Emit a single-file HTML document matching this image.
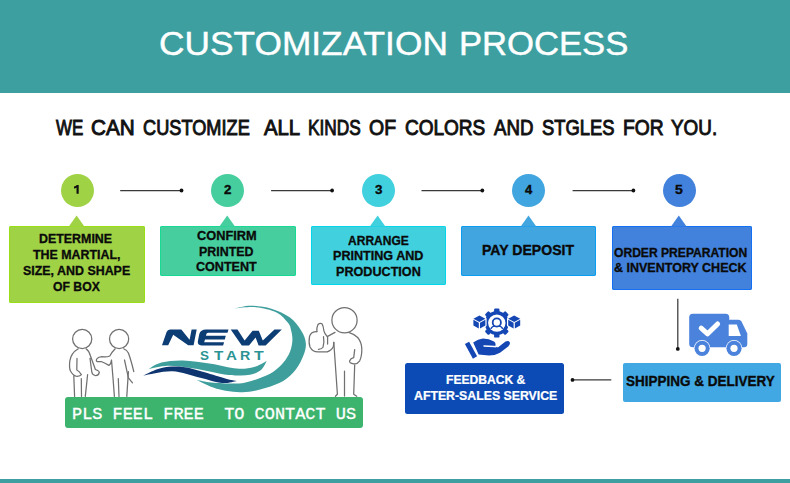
<!DOCTYPE html>
<html><head><meta charset="utf-8"><style>
html,body{margin:0;padding:0;}
body{width:790px;height:483px;position:relative;overflow:hidden;background:#fff;font-family:"Liberation Sans",sans-serif;}
.t{position:absolute;white-space:nowrap;line-height:normal}
.b{font-weight:bold}
.f{position:absolute;white-space:pre;line-height:1;transform-origin:0 0}
</style></head><body>
<div style="position:absolute;left:0;top:0;width:790px;height:92.6px;background:#3d9fa0"></div>
<div style="position:absolute;left:0;top:479.2px;width:790px;height:4px;background:#3d9fa0"></div>
<div style="position:absolute;left:60.50px;top:174.20px;width:33.00px;height:33.00px;border-radius:50%;background:#a0d246"></div>
<svg style="position:absolute;left:0;top:0" width="100" height="220"><path d="M76.5,193.8 L76.5,187.6 Q75.6,188.4 74,188.6 L74,186.6 Q76,186.2 76.8,185 L78.7,185 L78.7,193.8Z" fill="#111"/></svg>
<div style="position:absolute;left:9.3px;top:226px;width:135.30px;height:77.00px;border-radius:2px;background:#a0d246;box-shadow:inset 0 0 0 1px #98e015"></div>
<svg style="position:absolute;left:0;top:0" width="790" height="240"><path d="M68.80,226.5 L76.60,215.6 L84.40,226.5Z" fill="#a0d246"/></svg>
<div style="position:absolute;left:211.00px;top:174.20px;width:33.00px;height:33.00px;border-radius:50%;background:#47ce9e"></div>
<div style="position:absolute;left:159.8px;top:226px;width:135.80px;height:50.20px;border-radius:2px;background:#47ce9e;box-shadow:inset 0 0 0 1px #17db95"></div>
<svg style="position:absolute;left:0;top:0" width="790" height="240"><path d="M219.40,226.5 L227.20,215.6 L235.00,226.5Z" fill="#47ce9e"/></svg>
<div style="position:absolute;left:361.80px;top:174.20px;width:33.00px;height:33.00px;border-radius:50%;background:#40d0de"></div>
<div style="position:absolute;left:310.5px;top:226px;width:135.50px;height:58.60px;border-radius:2px;background:#40d0de;box-shadow:inset 0 0 0 1px #04d5e9"></div>
<svg style="position:absolute;left:0;top:0" width="790" height="240"><path d="M369.80,226.5 L377.60,215.6 L385.40,226.5Z" fill="#40d0de"/></svg>
<div style="position:absolute;left:512.20px;top:174.20px;width:33.00px;height:33.00px;border-radius:50%;background:#41a5e0"></div>
<div style="position:absolute;left:461.3px;top:226px;width:135.00px;height:50.40px;border-radius:2px;background:#41a5e0;box-shadow:inset 0 0 0 1px #0c9df2"></div>
<svg style="position:absolute;left:0;top:0" width="790" height="240"><path d="M520.70,226.5 L528.50,215.6 L536.30,226.5Z" fill="#41a5e0"/></svg>
<div style="position:absolute;left:662.80px;top:174.20px;width:33.00px;height:33.00px;border-radius:50%;background:#4282dc"></div>
<div style="position:absolute;left:611.9px;top:226px;width:139.70px;height:63.60px;border-radius:2px;background:#4282dc;box-shadow:inset 0 0 0 1px #1370f2"></div>
<svg style="position:absolute;left:0;top:0" width="790" height="240"><path d="M671.00,226.5 L678.80,215.6 L686.60,226.5Z" fill="#4282dc"/></svg>
<svg style="position:absolute;left:0;top:0" width="790" height="483"><g stroke="#3a3a3a" stroke-width="1.25" fill="#111"><line x1="120.2" y1="190.5" x2="181.5" y2="190.5"/><circle cx="181.5" cy="190.5" r="1.9" stroke="none"/><line x1="271.1" y1="190.5" x2="332.1" y2="190.5"/><circle cx="332.1" cy="190.5" r="1.9" stroke="none"/><line x1="421.5" y1="190.5" x2="482.3" y2="190.5"/><circle cx="482.3" cy="190.5" r="1.9" stroke="none"/><line x1="572.6" y1="190.5" x2="633.4" y2="190.5"/><circle cx="633.4" cy="190.5" r="1.9" stroke="none"/><line x1="677.8" y1="298.7" x2="677.8" y2="348.9"/><circle cx="677.8" cy="348.9" r="1.9" stroke="none"/><line x1="572.5" y1="379.9" x2="611.3" y2="379.9"/><circle cx="572.5" cy="379.9" r="1.9" stroke="none"/></g></svg>
<div style="position:absolute;left:622.6px;top:362.6px;width:158.4px;height:39.8px;border-radius:2px;background:#41a8e3"></div>
<div style="position:absolute;left:404.7px;top:363.2px;width:159.3px;height:50.4px;border-radius:2.5px;background:#0c4ab6"></div>
<div style="position:absolute;left:65.1px;top:396.7px;width:297.8px;height:31.8px;border-radius:3px;background:#3db46e"></div>
<div class="f" style="left:159.34px;top:25.14px;font:normal 100px 'Liberation Sans';color:#fff;transform:scale(0.35292,0.33000);-webkit-text-stroke:1.3px #fff">CUSTOMIZATION</div>
<div class="f" style="left:458.63px;top:25.14px;font:normal 100px 'Liberation Sans';color:#fff;transform:scale(0.34622,0.33000);-webkit-text-stroke:1.3px #fff">PROCESS</div>
<div class="f" style="left:56.30px;top:115.12px;font:normal 100px 'Liberation Sans';color:#111;transform:scale(0.16943,0.21500);-webkit-text-stroke:4.5px #111">WE</div>
<div class="f" style="left:91.46px;top:115.12px;font:normal 100px 'Liberation Sans';color:#111;transform:scale(0.20707,0.21500);-webkit-text-stroke:4.5px #111">CAN</div>
<div class="f" style="left:142.79px;top:115.12px;font:normal 100px 'Liberation Sans';color:#111;transform:scale(0.18201,0.21500);-webkit-text-stroke:4.5px #111">CUSTOMIZE</div>
<div class="f" style="left:264.00px;top:115.12px;font:normal 100px 'Liberation Sans';color:#111;transform:scale(0.20286,0.21500);-webkit-text-stroke:4.5px #111">ALL</div>
<div class="f" style="left:308.22px;top:115.12px;font:normal 100px 'Liberation Sans';color:#111;transform:scale(0.17304,0.21500);-webkit-text-stroke:4.5px #111">KINDS</div>
<div class="f" style="left:369.43px;top:115.12px;font:normal 100px 'Liberation Sans';color:#111;transform:scale(0.19462,0.21500);-webkit-text-stroke:4.5px #111">OF</div>
<div class="f" style="left:405.35px;top:115.12px;font:normal 100px 'Liberation Sans';color:#111;transform:scale(0.19007,0.21500);-webkit-text-stroke:4.5px #111">COLORS</div>
<div class="f" style="left:494.20px;top:115.12px;font:normal 100px 'Liberation Sans';color:#111;transform:scale(0.18696,0.21500);-webkit-text-stroke:4.5px #111">AND</div>
<div class="f" style="left:541.78px;top:115.12px;font:normal 100px 'Liberation Sans';color:#111;transform:scale(0.18390,0.21500);-webkit-text-stroke:4.5px #111">STGLES</div>
<div class="f" style="left:623.36px;top:115.12px;font:normal 100px 'Liberation Sans';color:#111;transform:scale(0.19192,0.21500);-webkit-text-stroke:4.5px #111">FOR</div>
<div class="f" style="left:671.42px;top:115.12px;font:normal 100px 'Liberation Sans';color:#111;transform:scale(0.18889,0.21500);-webkit-text-stroke:4.5px #111">YOU.</div>
<div class="f" style="left:223.90px;top:182.58px;font:bold 100px 'Liberation Sans';color:#0a0a0a;transform:scale(0.13265,0.12200);-webkit-text-stroke:3px #0a0a0a">2</div>
<div class="f" style="left:374.63px;top:182.58px;font:bold 100px 'Liberation Sans';color:#0a0a0a;transform:scale(0.13400,0.12200);-webkit-text-stroke:3px #0a0a0a">3</div>
<div class="f" style="left:525.27px;top:182.58px;font:bold 100px 'Liberation Sans';color:#0a0a0a;transform:scale(0.12963,0.12200);-webkit-text-stroke:3px #0a0a0a">4</div>
<div class="f" style="left:675.48px;top:182.58px;font:bold 100px 'Liberation Sans';color:#0a0a0a;transform:scale(0.14000,0.12200);-webkit-text-stroke:3px #0a0a0a">5</div>
<div class="f" style="left:38.63px;top:231.22px;font:bold 100px 'Liberation Sans';color:#0a0a0a;transform:scale(0.12405,0.12700);-webkit-text-stroke:2.5px #0a0a0a">DETERMINE</div>
<div class="f" style="left:32.88px;top:247.12px;font:bold 100px 'Liberation Sans';color:#0a0a0a;transform:scale(0.12407,0.12700);-webkit-text-stroke:2.5px #0a0a0a">THE MARTIAL,</div>
<div class="f" style="left:23.23px;top:262.72px;font:bold 100px 'Liberation Sans';color:#0a0a0a;transform:scale(0.12418,0.12700);-webkit-text-stroke:2.5px #0a0a0a">SIZE, AND SHAPE</div>
<div class="f" style="left:53.31px;top:278.72px;font:bold 100px 'Liberation Sans';color:#0a0a0a;transform:scale(0.12222,0.12700);-webkit-text-stroke:2.5px #0a0a0a">OF BOX</div>
<div class="f" style="left:197.09px;top:227.62px;font:bold 100px 'Liberation Sans';color:#0a0a0a;transform:scale(0.12807,0.12700);-webkit-text-stroke:2.5px #0a0a0a">CONFIRM</div>
<div class="f" style="left:199.13px;top:243.72px;font:bold 100px 'Liberation Sans';color:#0a0a0a;transform:scale(0.12430,0.12700);-webkit-text-stroke:2.5px #0a0a0a">PRINTED</div>
<div class="f" style="left:196.30px;top:259.12px;font:bold 100px 'Liberation Sans';color:#0a0a0a;transform:scale(0.12573,0.12700);-webkit-text-stroke:2.5px #0a0a0a">CONTENT</div>
<div class="f" style="left:347.74px;top:232.52px;font:bold 100px 'Liberation Sans';color:#0a0a0a;transform:scale(0.12044,0.12700);-webkit-text-stroke:2.5px #0a0a0a">ARRANGE</div>
<div class="f" style="left:332.62px;top:248.32px;font:bold 100px 'Liberation Sans';color:#0a0a0a;transform:scale(0.12588,0.12700);-webkit-text-stroke:2.5px #0a0a0a">PRINTING AND</div>
<div class="f" style="left:335.72px;top:264.32px;font:bold 100px 'Liberation Sans';color:#0a0a0a;transform:scale(0.12610,0.12700);-webkit-text-stroke:2.5px #0a0a0a">PRODUCTION</div>
<div class="f" style="left:481.52px;top:242.04px;font:bold 100px 'Liberation Sans';color:#0a0a0a;transform:scale(0.14071,0.14300);-webkit-text-stroke:2.5px #0a0a0a">PAY DEPOSIT</div>
<div class="f" style="left:614.32px;top:244.62px;font:bold 100px 'Liberation Sans';color:#0a0a0a;transform:scale(0.12090,0.12700);-webkit-text-stroke:2.5px #0a0a0a">ORDER PREPARATION</div>
<div class="f" style="left:614.30px;top:260.32px;font:bold 100px 'Liberation Sans';color:#0a0a0a;transform:scale(0.12514,0.12700);-webkit-text-stroke:2.5px #0a0a0a">&amp; INVENTORY CHECK</div>
<div class="f" style="left:626.20px;top:373.02px;font:bold 100px 'Liberation Sans';color:#0a0a0a;transform:scale(0.13491,0.14000);-webkit-text-stroke:2.5px #0a0a0a">SHIPPING &amp; DELIVERY</div>
<div class="f" style="left:445.65px;top:372.79px;font:bold 100px 'Liberation Sans';color:#fff;transform:scale(0.12093,0.12400);-webkit-text-stroke:2px #fff">FEEDBACK &amp;</div>
<div class="f" style="left:413.73px;top:388.59px;font:bold 100px 'Liberation Sans';color:#fff;transform:scale(0.12297,0.12400);-webkit-text-stroke:2px #fff">AFTER-SALES SERVICE</div>
<div class="f" style="left:72.25px;top:404.77px;font:normal 100px 'Liberation Mono';color:#fff;transform:scale(0.16905,0.16900);-webkit-text-stroke:2px #fff">PLS FEEL FREE  TO CONTACT US</div>
<div class="f" style="left:200.29px;top:349.29px;font:bold 100px 'Liberation Sans';color:#2b9393;transform:scale(0.13500,0.12400);">S</div>
<div class="f" style="left:214.35px;top:349.29px;font:bold 100px 'Liberation Sans';color:#2b9393;transform:scale(0.15254,0.12400);">T</div>
<div class="f" style="left:226.35px;top:349.29px;font:bold 100px 'Liberation Sans';color:#2b9393;transform:scale(0.15152,0.12400);">A</div>
<div class="f" style="left:239.60px;top:349.29px;font:bold 100px 'Liberation Sans';color:#2b9393;transform:scale(0.14286,0.12400);">R</div>
<div class="f" style="left:254.24px;top:349.29px;font:bold 100px 'Liberation Sans';color:#2b9393;transform:scale(0.15932,0.12400);">T</div>
<svg style="position:absolute;left:0;top:0" width="790" height="483" viewBox="0 0 790 483">
<!-- truck -->
<g fill="#4a82dc">
  <rect x="689.2" y="313.8" width="40" height="33.5" rx="3.5"/>
  <path d="M726,319.7 L738.5,319.7 Q740.5,319.7 741.5,321.5 L747.3,333.5 L747.3,344 Q747.3,347.3 744,347.3 L726,347.3 Z"/>
</g>
<g fill="#fff"><circle cx="702.1" cy="348.3" r="8.2"/><circle cx="734" cy="348.3" r="8.2"/></g>
<g fill="#4a82dc"><circle cx="702.1" cy="348.3" r="7.6"/><circle cx="734" cy="348.3" r="7.6"/></g>
<g fill="#fff">
  <path d="M728.7,324.5 L736.8,324.5 L740.9,336.1 L728.7,336.1 Z"/>
  <circle cx="702.1" cy="348.3" r="3.6"/>
  <circle cx="734" cy="348.3" r="3.6"/>
</g>
<path d="M701.2,328.2 L707.6,333.8 L717.6,324" fill="none" stroke="#fff" stroke-width="5" stroke-linecap="round" stroke-linejoin="round"/>
<!-- feedback icon -->
<g fill="#1446b4">
  <g transform="translate(496.8,323.1)">
    <circle r="12"/>
    <rect x="-2.7" y="-14.5" width="5.4" height="5" rx="1.2"/>
    <rect x="-2.7" y="9.5" width="5.4" height="5" rx="1.2"/>
    <rect x="-2.7" y="-14.5" width="5.4" height="5" rx="1.2" transform="rotate(45)"/>
    <rect x="-2.7" y="-14.5" width="5.4" height="5" rx="1.2" transform="rotate(-45)"/>
    <rect x="-2.7" y="9.5" width="5.4" height="5" rx="1.2" transform="rotate(45)"/>
    <rect x="-2.7" y="9.5" width="5.4" height="5" rx="1.2" transform="rotate(-45)"/>
    <circle r="8.7" fill="#fff"/>
    <circle cy="-0.6" r="4.1" fill="none" stroke="#1446b4" stroke-width="1.8"/>
    <path d="M-6,5.8 Q-4.5,3 -2,3 M2,3 Q4.5,3 6,5.8" fill="none" stroke="#1446b4" stroke-width="1.4"/>
  </g>
  <g id="cube" transform="translate(479.4,322)">
    <path d="M0,-6.5 L6,-3.3 L6,3.5 L0,6.7 L-6,3.5 L-6,-3.3Z" fill="#fff" stroke="#fff" stroke-width="2.4" stroke-linejoin="round"/>
    <path d="M0,-6.5 L6,-3.3 L0,-0.1 L-6,-3.3 Z"/>
    <path d="M-6,-2.2 L-0.6,0.8 L-0.6,6.5 L-6,3.5 Z"/>
    <path d="M6,-2.2 L0.6,0.8 L0.6,6.5 L6,3.5 Z"/>
  </g>
  <g transform="translate(514.2,322)">
    <path d="M0,-6.5 L6,-3.3 L6,3.5 L0,6.7 L-6,3.5 L-6,-3.3Z" fill="#fff" stroke="#fff" stroke-width="2.4" stroke-linejoin="round"/>
    <path d="M0,-6.5 L6,-3.3 L0,-0.1 L-6,-3.3 Z"/>
    <path d="M-6,-2.2 L-0.6,0.8 L-0.6,6.5 L-6,3.5 Z"/>
    <path d="M6,-2.2 L0.6,0.8 L0.6,6.5 L6,3.5 Z"/>
  </g>
  <path d="M464.9,344.1 L469.1,341.7 L477.1,356.2 L472.9,358.8 Z"/>
  <path d="M473.2,342.5 Q478,339 483,338.6 Q489,338.6 494,341.6 Q496.4,343.6 495.2,345.6 L497.8,347.6 L505.5,341.6 Q508.5,340 509.8,342.2 Q510.5,344.2 508.2,346.4 L500,352.7 Q495,355.6 489,355.6 L478.6,354.6 Z"/>
</g>
<path d="M484,345.9 L494.2,346.6 Q497.4,347 499.6,344.6" fill="none" stroke="#fff" stroke-width="1.5" stroke-linecap="round"/>
<!-- stick figures -->
<g fill="none" stroke="#707070" stroke-width="1.25" stroke-linecap="round" stroke-linejoin="round">
  <circle cx="82.2" cy="339" r="9.6"/>
  <path d="M78.3,348.8 Q71,353 69.8,361 Q69,368 70.5,371 Q73,375.5 76,376.2 Q80,376.6 81.4,374.7 Q79,371 76.8,370 L77,358.4"/>
  <path d="M73.8,376 L74.6,396.4"/>
  <path d="M81.3,378.6 L81.5,396.4"/>
  <path d="M85.3,396.4 L87.6,374.7"/>
  <path d="M86,348.8 Q89.2,351 90.5,356 L95.4,369.5 Q99.5,371 99.3,372.5 Q98.5,375.8 95,375.5 Q92,374.5 91.8,372 L90,358.4"/>
  <circle cx="119.1" cy="339" r="9.6"/>
  <path d="M115.2,348.8 Q112,352 109.8,356 Q106,357.5 102,356.6 Q98.5,357 97.3,358.4 Q95.5,360.5 97,361.5 L101.2,361.5 Q105,363 109,365.4 Q111,364 111.5,360 L113,378 L114.4,396.4"/>
  <path d="M118.3,378.6 L119,396.4"/>
  <path d="M126.8,396.4 L128.4,371.6"/>
  <path d="M123.7,348.8 Q127.5,350.5 128.4,353 Q131,360 133.8,371.6"/>
  <path d="M124.5,360 L128.4,377.8 L132.5,382.8"/>
  <circle cx="344.5" cy="320.2" r="12.6"/>
  <path d="M335,332.4 L327.2,336.6 Q324.5,333.5 323.9,330.8 Q323.5,326 322,323.8 Q320,322.6 318,324.5 Q316.5,327.5 316.9,331.6"/>
  <path d="M316.9,331.6 Q311,331.5 309.5,336.5 Q308.5,343 310,347 Q312.5,351.9 318,351.9 L327.2,351.9 Q332,350 333.4,346.5 L333.8,342.4"/>
  <path d="M327.6,337 L327.6,344"/>
  <path d="M318.5,349.4 Q322,349 323,347.3 Q324.5,342 323.5,336.6"/>
  <path d="M333.8,342.4 L337.4,394.2 L335.4,396.3"/>
  <path d="M344.5,371 L344.5,396"/>
  <path d="M354.7,364.8 L353.7,394.2 L356.7,396.3"/>
  <path d="M348.6,332.4 Q354,334 357.7,337.5 Q361.5,342 361.8,348.6 Q362,356 359.7,360.8 Q357,364.5 353.7,363.8 Q349,363 349.6,361 Q350.5,358.5 353.7,357.7 L354.7,349.6"/>
</g>
<!-- logo -->
<path fill="#3d9e9c" d="M235.20,308.30 C237.78,307.87 244.67,305.62 250.70,305.70 C256.73,305.78 264.85,306.82 271.40,308.80 C277.95,310.78 285.00,313.90 290.00,317.60 C295.00,321.30 298.77,326.77 301.40,331.00 C304.03,335.23 305.42,339.03 305.80,343.00 C306.18,346.97 305.37,350.37 303.70,354.80 C302.03,359.23 299.22,365.23 295.80,369.60 C292.38,373.97 288.13,377.97 283.20,381.00 C278.27,384.03 271.88,386.00 266.20,387.80 C260.52,389.60 254.00,391.10 249.10,391.80 C244.20,392.50 241.32,392.30 236.80,392.00 C232.28,391.70 226.30,390.87 222.00,390.00 C217.70,389.13 215.33,388.50 211.00,386.80 C206.67,385.10 198.50,380.97 196.00,379.80 C198.15,380.20 203.17,381.58 208.90,382.20 C214.63,382.82 224.45,383.42 230.40,383.50 C236.35,383.58 239.97,383.50 244.60,382.70 C249.23,381.90 253.47,380.50 258.20,378.70 C262.93,376.90 268.83,374.55 273.00,371.90 C277.17,369.25 280.35,366.22 283.20,362.80 C286.05,359.38 288.57,355.20 290.10,351.40 C291.63,347.60 292.25,343.57 292.40,340.00 C292.55,336.43 291.73,332.87 291.00,330.00 C290.27,327.13 290.40,325.73 288.00,322.80 C285.60,319.87 281.95,315.00 276.60,312.40 C271.25,309.80 262.80,307.88 255.90,307.20 C249.00,306.52 238.65,308.12 235.20,308.30Z"/>
<path fill="#3d9e9c" d="M148.60,369.00 C150.75,367.93 155.77,364.03 161.50,362.60 C167.23,361.17 174.75,360.22 183.00,360.40 C191.25,360.58 202.03,362.33 211.00,363.70 C219.97,365.07 229.63,368.05 236.80,368.60 C243.97,369.15 249.02,368.27 254.00,367.00 C258.98,365.73 264.58,362.00 266.70,361.00 C265.75,362.50 263.78,367.70 261.00,370.00 C258.22,372.30 254.03,373.88 250.00,374.80 C245.97,375.72 241.50,375.63 236.80,375.50 C232.10,375.37 228.97,375.17 221.80,374.00 C214.63,372.83 202.77,369.87 193.80,368.50 C184.83,367.13 175.53,365.72 168.00,365.80 C160.47,365.88 151.83,368.47 148.60,369.00Z"/>
<path fill="#0f3571" d="M143.20,375.50 C146.25,374.25 154.87,369.43 161.50,368.00 C168.13,366.57 175.82,366.18 183.00,366.90 C190.18,367.62 197.43,370.33 204.60,372.30 C211.77,374.27 220.63,377.27 226.00,378.70 C231.37,380.13 235.00,380.53 236.80,380.90 C234.30,381.25 227.88,383.53 221.80,383.00 C215.72,382.47 208.55,379.67 200.30,377.70 C192.05,375.73 181.82,371.57 172.30,371.20 C162.78,370.83 148.05,374.78 143.20,375.50Z"/>
<g fill="#0d3d75">
  <path d="M162,345.3 L166.6,332 Q167.6,329.5 170,329.5 L181.3,329.5 L189.6,339.8 L191.6,329.5 L196.7,329.5 L193.6,345.3 L188.2,345.3 L173.2,334.8 L168.2,345.3 Z"/>
  <path d="M206,329.5 Q200.5,329.5 199.3,334 L197.9,341 Q197.2,345.4 201.5,345.4 L223.1,345.4 L224.1,342.2 L204.2,342.2 L205,339.5 L224.8,339.5 L225.8,335.8 L205.9,335.8 L206.6,333.4 Q207.2,332.7 208.5,332.7 L227.5,332.7 L228.5,329.5 Z"/>
  <path d="M230.7,329.5 L237.5,329.5 L244.6,340.6 L252.6,330.8 L258.8,330.8 L262.8,340.4 L274.5,329.5 L281.8,329.5 L265.6,345.4 L258.6,345.4 L255.6,337.6 L249,345.4 L241.8,345.4 Z"/>
</g>
</svg>

</body></html>
